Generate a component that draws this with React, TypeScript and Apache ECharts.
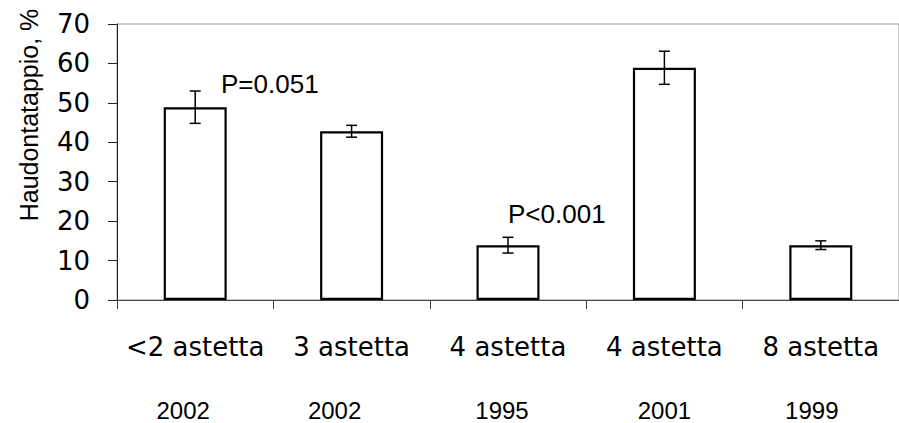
import * as echarts from 'echarts';
import React, { useEffect, useRef } from 'react';

const categories = ['<2 astetta', '3 astetta', '4 astetta', '4 astetta', '8 astetta'];
const years = ['2002', '2002', '1995', '2001', '1999'];
const means = [48.9, 42.8, 13.9, 58.9, 13.9];
const errors = [4.1, 1.5, 2.0, 4.2, 1.1];
const pLabels = ['P=0.051', '', 'P<0.001', '', ''];

const yTicks = { min: 0, max: 70, interval: 10 };

const App: React.FC = () => {
  const ref = useRef<HTMLDivElement>(null);

  useEffect(() => {
    const chart = echarts.init(ref.current, null, { renderer: 'svg' });

    // year labels sit a bit left of the category centre in the original
    const yearShift = [12, 17, 6, 0, 9];

    chart.setOption({
      animation: false,
      grid: {
        left: 117,
        top: 24,
        right: -10,
        bottom: 123,
        show: true,
        borderColor: '#999',
        borderWidth: 1,
      },
      xAxis: [
        {
          type: 'category',
          data: categories,
          axisLine: { lineStyle: { color: '#444', width: 1 } },
          axisTick: { show: true, length: 9, lineStyle: { color: '#444' } },
          axisLabel: {
            margin: 34,
            color: '#000',
            fontFamily: 'DejaVu Sans',
            fontSize: 26,
            interval: 0,
          },
        },
        {
          type: 'category',
          data: years.map((y, i) => ({
            value: y,
            textStyle: { padding: [0, yearShift[i] * 2, 0, 0] },
          })),
          position: 'bottom',
          axisLine: { show: false },
          axisTick: { show: false },
          axisLabel: {
            margin: 98,
            color: '#000',
            fontFamily: 'Liberation Sans',
            fontSize: 24,
            interval: 0,
          },
        },
      ],
      yAxis: {
        type: 'value',
        min: yTicks.min,
        max: yTicks.max,
        interval: yTicks.interval,
        splitLine: { show: false },
        axisLine: { show: true, lineStyle: { color: '#222', width: 1 } },
        axisTick: { show: true, length: 9, lineStyle: { color: '#222' } },
        axisLabel: {
          margin: 27,
          color: '#000',
          fontFamily: 'DejaVu Sans',
          fontSize: 26,
        },
        name: 'Haudontatappio, %',
        nameLocation: 'middle',
        nameGap: 76,
        nameRotate: 90,
        nameTextStyle: {
          color: '#000',
          fontFamily: 'Liberation Sans',
          fontSize: 25,
          padding: [0, 0, 0, 94],
        },
      },
      series: [
        {
          type: 'bar',
          data: means,
          barWidth: 63,
          itemStyle: { color: '#fff', borderColor: '#000', borderWidth: 2.2 },
          silent: true,
        },
        {
          type: 'custom',
          data: means.map((m, i) => [i, m, errors[i]]),
          z: 10,
          renderItem: (params: any, api: any) => {
            const i = api.value(0);
            const m = api.value(1);
            const e = api.value(2);
            const top = api.coord([i, m + e]);
            const bot = api.coord([i, m - e]);
            const catW = api.size([1, 0])[0];
            const cap = 5.5;
            const lineStyle = { stroke: '#000', lineWidth: 1.5 };
            const children: any[] = [
              { type: 'line', shape: { x1: top[0], y1: top[1], x2: bot[0], y2: bot[1] }, style: lineStyle },
              { type: 'line', shape: { x1: top[0] - cap, y1: top[1], x2: top[0] + cap, y2: top[1] }, style: lineStyle },
              { type: 'line', shape: { x1: bot[0] - cap, y1: bot[1], x2: bot[0] + cap, y2: bot[1] }, style: lineStyle },
            ];
            const label = pLabels[params.dataIndex];
            if (label) {
              const first = params.dataIndex === 0;
              children.push({
                type: 'text',
                x: top[0] + (first ? 0.165 : 0) * catW,
                y: top[1] - (first ? 7 : 23),
                style: {
                  text: label,
                  fill: '#000',
                  font: '26px "Liberation Sans"',
                  textAlign: 'left',
                  textVerticalAlign: 'middle',
                },
              });
            }
            return { type: 'group', children };
          },
        },
      ],
    });

    return () => {
      chart.dispose();
    };
  }, []);

  return (
    <div
      ref={ref}
      style={{ position: 'absolute', left: 0, top: 0, width: 899, height: 423, background: '#fff' }}
    ></div>
  );
};

export default App;
